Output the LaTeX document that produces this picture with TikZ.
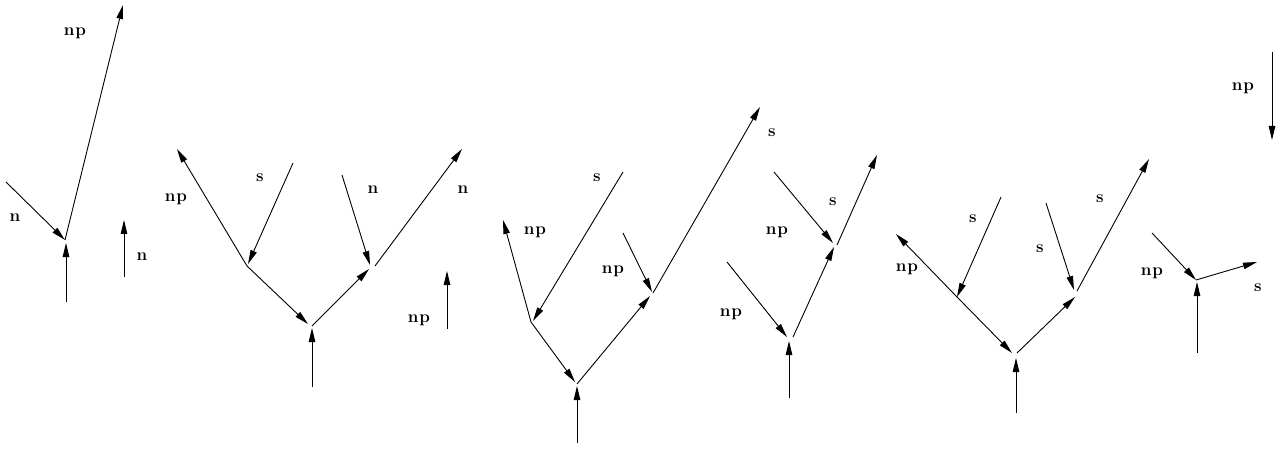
\documentclass[tikz,border=0pt]{standalone}
\usetikzlibrary{arrows.meta}
\begin{document}
\begin{tikzpicture}[x=1pt,y=-1pt,line width=0.9pt,
  arr/.style={-{Triangle[length=14pt,width=6.5pt]}},
  lbl/.style={font=\fontsize{17}{20}\selectfont\bfseries,inner sep=0pt,anchor=base,yshift=-4pt}]
\useasboundingbox (0,0) rectangle (1285,449);
% ---------- diagram 1
\coordinate (a1) at (65,240);
\coordinate (a1top) at (123,5);
\coordinate (a1n) at (6,182);
\coordinate (a1bot) at (66,302);
\coordinate (a1bt) at (66,243);
\draw[arr] (a1) -- (a1top);
\draw[arr] (a1n) -- (a1);
\draw[arr] (a1bot) -- (a1bt);
\node[lbl] (l1np) at (75,32) {n\kern0.8pt p};
\node[lbl] (l1n) at (15,218) {n};
\coordinate (b1s) at (124,277);
\coordinate (b1e) at (124,220);
\draw[arr] (b1s) -- (b1e);
\node[lbl] (l1n2) at (142,257) {n};
% ---------- diagram 2
\coordinate (d2L) at (247,266);
\coordinate (d2Lt) at (248,264);
\coordinate (d2R) at (312,326);
\coordinate (d2Rt) at (308,324);
\coordinate (d2Rb) at (312,328);
\coordinate (d2M) at (372,267);
\coordinate (d2Mt) at (369,269);
\coordinate (d2Mn) at (370,265);
\coordinate (d2np) at (177,149);
\coordinate (d2s) at (293,163);
\coordinate (d2bot) at (312,387);
\coordinate (d2n) at (342,175);
\coordinate (d2nn) at (462,149);
\coordinate (d2Ms) at (375,266);
\draw[arr] (d2L) -- (d2np);
\draw[arr] (d2s) -- (d2Lt);
\draw[arr] (d2L) -- (d2Rt);
\draw[arr] (d2bot) -- (d2Rb);
\draw[arr] (d2R) -- (d2Mt);
\draw[arr] (d2n) -- (d2Mn);
\draw[arr] (d2Ms) -- (d2nn);
\node[lbl] (l2np) at (176,198) {n\kern0.8pt p};
\node[lbl] (l2s) at (260,178) {s};
\node[lbl] (l2n) at (373,190) {n};
\node[lbl] (l2n2) at (463,190) {n};
\coordinate (b2s) at (447,329);
\coordinate (b2e) at (447,271);
\draw[arr] (b2s) -- (b2e);
\node[lbl] (l2np2) at (419,318) {n\kern0.8pt p};
% ---------- diagram 3
\coordinate (d3L) at (531,322);
\coordinate (d3Lt) at (533,321);
\coordinate (d3R) at (577,384);
\coordinate (d3Rt) at (575,382);
\coordinate (d3Rb) at (577,386);
\coordinate (d3M) at (652,294);
\coordinate (d3Mt) at (650,296);
\coordinate (d3Mn) at (652,292);
\coordinate (d3np) at (503,220);
\coordinate (d3s) at (623,172);
\coordinate (d3bot) at (577,443);
\coordinate (d3np2) at (623,233);
\coordinate (d3Ms) at (653,293);
\coordinate (d3ss) at (760,107);
\draw[arr] (d3L) -- (d3np);
\draw[arr] (d3s) -- (d3Lt);
\draw[arr] (d3L) -- (d3Rt);
\draw[arr] (d3bot) -- (d3Rb);
\draw[arr] (d3R) -- (d3Mt);
\draw[arr] (d3np2) -- (d3Mn);
\draw[arr] (d3Ms) -- (d3ss);
\node[lbl] (l3s) at (597,178) {s};
\node[lbl] (l3np) at (535,230) {n\kern0.8pt p};
\node[lbl] (l3np2) at (613,269) {n\kern0.8pt p};
\node[lbl] (l3s2) at (772,133) {s};
% ---------- diagram 4
\coordinate (d4a) at (774,172);
\coordinate (d4at) at (833,243);
\coordinate (d4M) at (837,245);
\coordinate (d4s) at (877,155);
\coordinate (d4b) at (727,262);
\coordinate (d4bt) at (787,337);
\coordinate (d4R) at (793,337);
\coordinate (d4Rt) at (834,247);
\coordinate (d4bot) at (789,398);
\coordinate (d4Rb) at (789,341);
\draw[arr] (d4a) -- (d4at);
\draw[arr] (d4M) -- (d4s);
\draw[arr] (d4b) -- (d4bt);
\draw[arr] (d4R) -- (d4Rt);
\draw[arr] (d4bot) -- (d4Rb);
\node[lbl] (l4s) at (833,202) {s};
\node[lbl] (l4np) at (777,231) {n\kern0.8pt p};
\node[lbl] (l4np2) at (731,312) {n\kern0.8pt p};
% ---------- diagram 5
\coordinate (d5N) at (957,297);
\coordinate (d5np) at (896,234);
\coordinate (d5Rt) at (1012,353);
\coordinate (d5s) at (1001,197);
\coordinate (d5bot) at (1016,413);
\coordinate (d5Rb) at (1016,358);
\coordinate (d5R) at (1017,353);
\coordinate (d5Mt) at (1075,297);
\coordinate (d5s2) at (1046,203);
\coordinate (d5Mn) at (1074,290);
\coordinate (d5M) at (1077,291);
\coordinate (d5ss) at (1149,159);
\draw[arr] (d5N) -- (d5np);
\draw[arr] (d5N) -- (d5Rt);
\draw[arr] (d5s) -- (d5N);
\draw[arr] (d5bot) -- (d5Rb);
\draw[arr] (d5R) -- (d5Mt);
\draw[arr] (d5s2) -- (d5Mn);
\draw[arr] (d5M) -- (d5ss);
\node[lbl] (l5s) at (973,219) {s};
\node[lbl] (l5s2) at (1040,248) {s};
\node[lbl] (l5s3) at (1100,199) {s};
\node[lbl] (l5np) at (907,267) {n\kern0.8pt p};
% ---------- diagram 6
\coordinate (d6a) at (1272,52);
\coordinate (d6at) at (1272,140);
\coordinate (d6b) at (1152,233);
\coordinate (d6N) at (1196,280);
\coordinate (d6Nb) at (1197,282);
\coordinate (d6s) at (1257,262);
\coordinate (d6bot) at (1197,353);
\draw[arr] (d6a) -- (d6at);
\draw[arr] (d6b) -- (d6N);
\draw[arr] (d6N) -- (d6s);
\draw[arr] (d6bot) -- (d6Nb);
\node[lbl] (l6np) at (1243,87) {n\kern0.8pt p};
\node[lbl] (l6np2) at (1152,272) {n\kern0.8pt p};
\node[lbl] (l6s) at (1258,287) {s};
\end{tikzpicture}
\end{document}
